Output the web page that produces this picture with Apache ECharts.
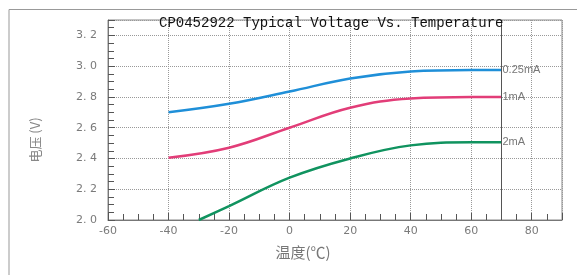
<!DOCTYPE html>
<html>
<head>
    <meta charset="utf-8">
    <title>CP0452922 Voltage Vs. Temperature</title>
    <script src="https://cdn.jsdelivr.net/npm/echarts@6/dist/echarts.min.js"></script>
    <style>
        * {
            margin: 0;
            padding: 0
        }

        html, body {
            width: 100%;
            height: 100%;
            background: #fff;
        }

        #main {
            width: 577px;
            height: 275px;
        }
    </style>
</head>
<body>
<div id="main"></div>
<script type="text/javascript">
    // 温度 (°C)
    var temps = [-40, -20, 0, 20, 40, 60, 70];
    var v025 = [2.70, 2.755, 2.835, 2.92, 2.965, 2.975, 2.975];
    var v1 = [2.405, 2.47, 2.60, 2.73, 2.79, 2.80, 2.80];
    // 2mA 从 -30 开始
    var temps2 = [-30, -20, 0, 20, 40, 60, 70];
    var v2 = [2.0, 2.09, 2.275, 2.40, 2.485, 2.505, 2.505];
    var seriesNames = ['0.25mA', '1mA', '2mA'];
    var colors = ['#1f8fd8', '#e23d78', '#10935f'];

    function pairs(xs, ys) {
        var out = [];
        for (var i = 0; i < xs.length; i++) {
            out.push([xs[i], ys[i]]);
        }
        return out;
    }

    var gray = '#7a7a7a';
    var myChart = echarts.init(document.getElementById('main'));

    function lineSeries(idx, data) {
        return {
            name: seriesNames[idx],
            type: 'line',
            data: data,
            smooth: 0.4,
            symbol: 'none',
            lineStyle: {color: colors[idx], width: 2.5},
            itemStyle: {color: colors[idx]},
            endLabel: {
                show: true,
                formatter: '{a}',
                color: '#777',
                fontSize: 11,
                fontFamily: 'Liberation Sans',
                distance: 1
            }
        };
    }

    var s0 = lineSeries(0, pairs(temps, v025));
    s0.markLine = {
        silent: true,
        symbol: 'none',
        label: {show: false},
        lineStyle: {color: '#555', type: 'solid', width: 1},
        data: [{xAxis: 70}]
    };

    var tickStyle = {color: '#555', width: 1};

    myChart.setOption({
        animation: false,
        title: {
            text: 'CP0452922 Typical Voltage Vs. Temperature',
            left: 154,
            top: 11,
            textStyle: {
                fontFamily: 'Liberation Mono',
                fontSize: 14,
                fontWeight: 'normal',
                color: '#111'
            }
        },
        graphic: [
            {
                type: 'polyline',
                shape: {points: [[9, 275], [9, 9.5], [577, 9.5]]},
                style: {stroke: '#999', lineWidth: 1, fill: null}
            },
            {
                type: 'text',
                x: 35,
                y: 140,
                rotation: Math.PI / 2,
                style: {
                    text: '电压 (V)',
                    fill: '#888',
                    font: '13px "Noto Sans CJK SC"',
                    align: 'center',
                    verticalAlign: 'middle'
                }
            },
            {
                type: 'text',
                x: 303,
                y: 252,
                style: {
                    text: '温度(℃)',
                    fill: '#777',
                    font: '15px "Noto Sans CJK SC"',
                    align: 'center',
                    verticalAlign: 'middle'
                }
            }
        ],
        grid: {
            left: 108,
            right: 15,
            top: 20,
            bottom: 55,
            show: true,
            borderColor: '#888',
            borderWidth: 1
        },
        xAxis: {
            type: 'value',
            min: -60,
            max: 90,
            interval: 20,
            axisLine: {onZero: false, lineStyle: {color: '#777'}},
            axisTick: {show: true, inside: true, length: 7, lineStyle: tickStyle},
            minorTick: {show: true, splitNumber: 4, length: 6, lineStyle: tickStyle},
            axisLabel: {
                color: gray,
                fontSize: 11,
                margin: 6,
                fontFamily: 'DejaVu Sans',
                showMaxLabel: false
            },
            splitLine: {lineStyle: {color: '#999', type: 'dotted'}}
        },
        yAxis: {
            type: 'value',
            min: 2.0,
            max: 3.3,
            interval: 0.2,
            axisLine: {show: true, onZero: false, lineStyle: {color: '#777'}},
            axisTick: {show: true, inside: true, length: 7, lineStyle: tickStyle},
            minorTick: {show: true, splitNumber: 4, length: 6, lineStyle: tickStyle},
            axisLabel: {
                color: gray,
                fontSize: 11,
                margin: 11,
                fontFamily: 'DejaVu Sans',
                showMaxLabel: false,
                formatter: function (v) {
                    return v.toFixed(1).replace('.', '. ');
                }
            },
            splitLine: {lineStyle: {color: '#999', type: 'dotted'}}
        },
        series: [
            s0,
            lineSeries(1, pairs(temps, v1)),
            lineSeries(2, pairs(temps2, v2))
        ]
    });
</script>
</body>
</html>
